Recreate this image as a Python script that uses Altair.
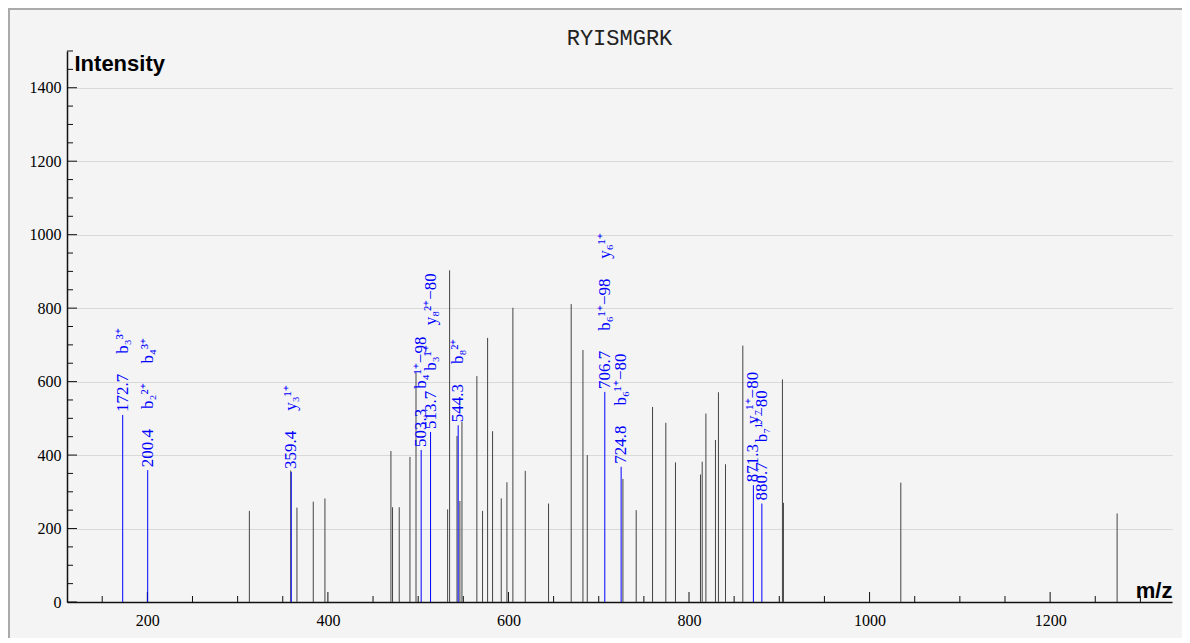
import altair as alt
import pandas as pd

TITLE = "RYISMGRK"

# unannotated peaks (m/z, intensity)
other_mz = [313.0, 358.8, 365.7, 383.8, 396.7, 469.8, 471.6, 479.0, 490.9, 497.6,
            532.6, 534.8, 543.0, 546.2, 548.5, 565.0, 571.3, 576.9, 582.4, 592.0,
            598.3, 604.9, 618.6, 644.4, 669.5, 682.5, 687.3, 726.8, 741.5, 759.6,
            774.3, 785.0, 812.7, 814.6, 818.7, 829.3, 832.6, 840.4, 859.6, 903.5,
            904.6, 1034.6, 1274.2]
other_int = [248, 358, 257, 273, 282, 411, 258, 258, 395, 625,
             252, 903, 452, 275, 490, 615, 248, 719, 465, 282,
             326, 801, 357, 268, 811, 686, 400, 335, 250, 531,
             488, 380, 347, 382, 513, 441, 571, 375, 698, 606,
             270, 325, 241]

# annotated (matched) peaks
ion_mz = [172.7, 200.4, 359.4, 503.3, 513.7, 544.3, 706.7, 724.8, 871.3, 880.7]
ion_int = [509, 359, 354, 414, 463, 481, 572, 368, 318, 268]
ion_labels = [["b₃³⁺"], ["b₂²⁺", "b₄³⁺"], ["y₃¹⁺"], ["b₄¹⁺−98"], ["b₃¹⁺", "y₈²⁺−80"],
              ["b₈²⁺"], ["b₆¹⁺−98", "y₆¹⁺"], ["b₆¹⁺−80"], ["y₇¹⁺−80"], ["b₇¹⁺−80"]]

x_tick_labels = [200, 400, 600, 800, 1000, 1200]
y_tick_labels = [0, 200, 400, 600, 800, 1000, 1200, 1400]
x_minor = list(range(150, 1301, 50))
y_minor = list(range(0, 1501, 50))

W, H = 1105, 551
X_DOM = [111, 1335]
Y_DOM = [0, 1500]
LABEL_FS = 17


def text_width(s, fs=LABEL_FS):
    em = 0.0
    for ch in s:
        if ch in "0123456789":
            em += 0.5
        elif ch == ".":
            em += 0.25
        elif ch in "by":
            em += 0.5
        elif ch == "−":
            em += 0.564
        else:
            em += 0.33
    return em * fs


rows = []
for mz, inten, ions in zip(ion_mz, ion_int, ion_labels):
    texts = [f"{mz:.1f}"] + ions
    off = 3.0
    for t in texts:
        rows.append({"mz": mz, "ly": inten + off * Y_DOM[1] / H, "label": t})
        off += text_width(t) + 20
labels_df = pd.DataFrame(rows)

other_df = pd.DataFrame({"mz": other_mz, "intensity": other_int})
ion_df = pd.DataFrame({"mz": ion_mz, "intensity": ion_int})
xt_major = pd.DataFrame({"mz": [v for v in x_minor if v % 200 == 0]})
xt_minor = pd.DataFrame({"mz": [v for v in x_minor if v % 200 != 0]})
yt_major = pd.DataFrame({"intensity": [v for v in y_minor if v % 200 == 0]})
yt_minor = pd.DataFrame({"intensity": [v for v in y_minor if v % 200 != 0]})
one = pd.DataFrame({"k": [0]})

xs = alt.Scale(domain=X_DOM, nice=False, zero=False)
ys = alt.Scale(domain=Y_DOM, nice=False)

x_axis = alt.Axis(values=x_tick_labels, format="d", ticks=False, grid=False,
                  labelFont="Liberation Serif", labelFontSize=16, labelColor="#000",
                  labelPadding=10, domainColor="#111", domainWidth=1.5,
                  title="m/z", titleFont="Liberation Sans", titleFontSize=22,
                  titleFontWeight="bold", titleColor="#000", titleAngle=0,
                  titleX=W, titleY=-5, titleAlign="right", titleBaseline="alphabetic")
y_axis = alt.Axis(values=y_tick_labels, format="d", ticks=False, grid=True, gridColor="#d9d9d9",
                  gridWidth=1, labelFont="Liberation Serif", labelFontSize=16,
                  labelColor="#000", labelPadding=6, domainColor="#111", domainWidth=1.5,
                  title="Intensity", titleFont="Liberation Sans", titleFontSize=22,
                  titleFontWeight="bold", titleColor="#000", titleAngle=0,
                  titleX=7, titleY=19, titleAlign="left", titleBaseline="alphabetic")

X = lambda f: alt.X(f, type="quantitative", scale=xs, axis=x_axis)
Y = lambda f: alt.Y(f, type="quantitative", scale=ys, axis=y_axis)

border = alt.Chart(one).mark_rect(fillOpacity=0, stroke="#aaaaaa", strokeWidth=2).encode(
    x=alt.value(-58), x2=alt.value(W + 80), y=alt.value(-42), y2=alt.value(H + 80))

title = alt.Chart(one).mark_text(text=TITLE, font="Liberation Mono", fontSize=22,
                                 color="#222", align="center", baseline="alphabetic").encode(
    x=alt.value(W / 2), y=alt.value(-6))

base_peaks = alt.Chart(other_df).mark_rule(color="#444", strokeWidth=1).encode(
    x=X("mz"), y=Y("intensity"), y2=alt.datum(0))

ion_peaks = alt.Chart(ion_df).mark_rule(color="#0000ff", strokeWidth=1).encode(
    x=X("mz"), y=Y("intensity"), y2=alt.datum(0))

xt1 = alt.Chart(xt_major).mark_rule(color="#111", strokeWidth=1).encode(
    x=X("mz"), y=alt.value(H), y2=alt.value(H - 10))
xt2 = alt.Chart(xt_minor).mark_rule(color="#111", strokeWidth=1).encode(
    x=X("mz"), y=alt.value(H), y2=alt.value(H - 6))
yt1 = alt.Chart(yt_major).mark_rule(color="#111", strokeWidth=1).encode(
    y=Y("intensity"), x=alt.value(0), x2=alt.value(10))
yt2 = alt.Chart(yt_minor).mark_rule(color="#111", strokeWidth=1).encode(
    y=Y("intensity"), x=alt.value(0), x2=alt.value(6))

labels = alt.Chart(labels_df).mark_text(angle=270, align="left", baseline="middle",
                                        font="Liberation Serif", fontSize=LABEL_FS,
                                        color="#0000ff").encode(
    x=X("mz"), y=Y("ly"), text="label:N")

chart = alt.layer(border, title, xt1, xt2, yt1, yt2, base_peaks, ion_peaks, labels).properties(
    width=W, height=H,
    padding={"left": 59, "top": 43, "right": 10, "bottom": 36},
    autosize=alt.AutoSizeParams(type="none"),
    background="#f4f4f4",
).configure_view(stroke=None)

chart.save("out.html", embed_options={"renderer": "svg", "actions": False})
